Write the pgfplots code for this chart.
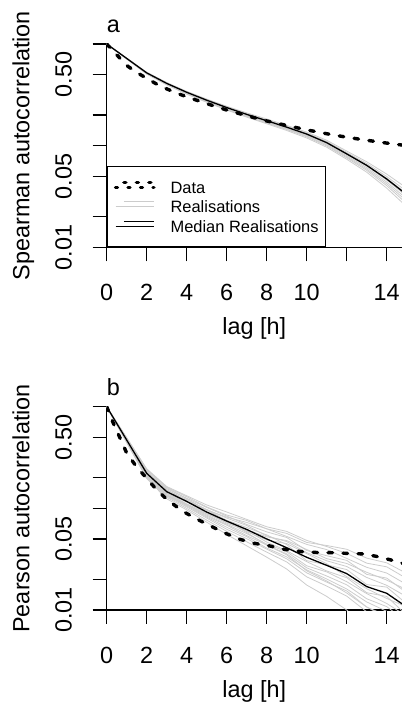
\documentclass[border=0pt]{standalone}
\usepackage{fontspec}
\setmainfont{Liberation Sans}
\usepackage{pgfplots}
\pgfplotsset{compat=1.18}
\usepackage{pgfplotstable}

\definecolor{realgrey}{gray}{0.80}

% Panel a: Spearman, data (dashed)
\pgfplotstableread{
lag val
0 1.0
0.33 0.85
0.67 0.723
1 0.615
1.5 0.525
2 0.46
2.5 0.403
3 0.362
3.5 0.329
4 0.302
5 0.259
6 0.224
7 0.197
8 0.175
9 0.158
10 0.143
11 0.131
12 0.121
13 0.113
14 0.106
15 0.100
}\dataA

% Panel a: median and realisations
\pgfplotstableread{
lag m r1 r2 r3 r4 r5 r6 r7 r8
0 1 1 1 1 1 1 1 1 1
2 0.52 0.528 0.524 0.521 0.518 0.515 0.512 0.510 0.506
3 0.41 0.418 0.414 0.411 0.408 0.405 0.403 0.400 0.396
4 0.335 0.342 0.339 0.336 0.333 0.330 0.328 0.325 0.321
5 0.28 0.287 0.284 0.281 0.278 0.2755 0.273 0.270 0.267
6 0.237 0.244 0.241 0.238 0.235 0.2327 0.230 0.2275 0.224
7 0.203 0.210 0.206 0.204 0.201 0.199 0.1965 0.194 0.191
8 0.176 0.183 0.179 0.177 0.174 0.172 0.1697 0.167 0.164
9 0.152 0.158 0.155 0.153 0.150 0.148 0.146 0.144 0.141
10 0.13 0.136 0.133 0.131 0.129 0.126 0.124 0.122 0.119
11 0.107 0.113 0.110 0.108 0.1055 0.1034 0.1013 0.0992 0.0965
12 0.083 0.0885 0.0857 0.084 0.0816 0.0796 0.0777 0.0759 0.0735
13 0.064 0.0694 0.0667 0.0647 0.0627 0.0608 0.0588 0.0571 0.0548
14 0.047 0.0525 0.0497 0.0477 0.0458 0.0438 0.0421 0.0404 0.0382
15 0.033 0.0383 0.0355 0.0337 0.0318 0.0301 0.0285 0.0269 0.0251
}\realA

% Panel b: Pearson, data (dashed)
\pgfplotstableread{
lag val
0 1.0
0.33 0.69
0.67 0.49
1 0.35
1.5 0.255
2 0.1975
2.5 0.152
3 0.123
3.75 0.095
4.42 0.080
5.17 0.0675
5.87 0.0576
6.6 0.050
7.37 0.0453
8.17 0.0426
8.9 0.0395
9.75 0.0375
10.5 0.0368
11.33 0.0366
12.1 0.036
12.9 0.0356
13.7 0.033
14.5 0.030
15 0.028
}\dataB

% Panel b: median and realisations
\pgfplotstableread{
lag m r1 r2 r3 r4 r5 r6 r7 r8 r9 r10 r11 r12 r13 r14 r15 r16
0 1 1 1 1 1 1 1 1 1 1 1 1 1 1 1 1 1
2 0.221 0.245 0.240 0.234 0.229 0.226 0.221 0.216 0.2135 0.211 0.206 0.204 0.199 0.197 0.211 0.206 0.242
3 0.146 0.164 0.162 0.1565 0.153 0.151 0.1426 0.1426 0.1394 0.1362 0.1348 0.1317 0.1286 0.1242 0.1426 0.1332 0.160
4 0.117 0.133 0.130 0.1257 0.1215 0.1187 0.116 0.1108 0.1095 0.1082 0.1058 0.1034 0.0999 0.0965 0.116 0.1082 0.1244
5 0.092 0.108 0.1033 0.1021 0.0975 0.0964 0.0899 0.0899 0.0859 0.0839 0.0821 0.0802 0.0766 0.0731 0.0964 0.0880 0.0964
6 0.075 0.0921 0.0860 0.0840 0.0802 0.0765 0.0749 0.0715 0.0698 0.0683 0.0652 0.0623 0.0594 0.0554 0.0820 0.0732 0.0749
7 0.062 0.0779 0.0760 0.0694 0.0678 0.0648 0.0590 0.0604 0.0564 0.0539 0.0526 0.0503 0.0469 0.0428 0.0727 0.0618 0.0578
8 0.050 0.0659 0.0629 0.0587 0.0536 0.0548 0.0489 0.0466 0.0446 0.0436 0.0407 0.0397 0.0371 0.0331 0.0629 0.0524 0.0436
9 0.041 0.0593 0.0529 0.0517 0.0471 0.0440 0.0450 0.0383 0.0374 0.0357 0.0333 0.0319 0.0297 0.0253 0.0567 0.0482 0.0349
10 0.033 0.0484 0.0442 0.0385 0.0367 0.0306 0.0359 0.0299 0.0272 0.0260 0.0248 0.0232 0.0212 0.0176 0.0462 0.0394 0.0243
11 0.0275 0.0421 0.0393 0.0342 0.0305 0.0278 0.0285 0.0242 0.0237 0.0216 0.0202 0.0188 0.0172 0.0136 0.0431 0.0320 0.0193
12 0.0228 0.0361 0.0322 0.0308 0.0268 0.0250 0.0213 0.0208 0.0190 0.0177 0.0161 0.0154 0.0137 0.0100 0.0396 0.0287 0.0147
13 0.017 0.0289 0.0263 0.0224 0.0209 0.0178 0.0162 0.0148 0.0145 0.0129 0.0120 0.0107 0.0096 0.0068 0.0324 0.0235 0.0107
14 0.0146 0.0266 0.0231 0.0206 0.0175 0.0168 0.0130 0.0136 0.0116 0.0108 0.0097 0.0088 0.0077 0.0052 0.0291 0.0197 0.0084
15 0.0107 0.0204 0.0178 0.0148 0.0135 0.0115 0.0107 0.0089 0.0087 0.0077 0.0069 0.0062 0.0054 0.0034 0.0229 0.0158 0.0059
}\realB

\begin{document}
\begin{tikzpicture}
\path[use as bounding box] (0bp,0bp) rectangle (402bp,716bp);

\begin{axis}[at={(106.7bp,468.7bp)}, anchor=south west,
    scale only axis, width=295.3bp, height=203.3bp,
    xmin=0, xmax=14.765, ymin=0.01, ymax=1, ymode=log,
    axis x line*=bottom, axis y line*=left,
    axis line style={line width=1.2bp, black},
    tick align=outside, major tick length=14bp,
    every tick/.style={black, line width=1.2bp},
    yminorticks=false, xminorticks=false,
    xtick={0,2,4,6,8,10,12,14}, xticklabels={0,2,4,6,8,10,,14},
    ytick={0.01,0.02,0.05,0.1,0.2,0.5,1}, yticklabels={0.01,,0.05,,,0.50,},
    tick label style={font=\fontsize{23.5}{28}\selectfont, inner sep=0pt},
    xticklabel style={anchor=base, yshift=-39.5bp},
    yticklabel style={xshift=-21bp, rotate=90, anchor=base},
    every axis x label/.style={at={(axis description cs:0.5,0)}, anchor=base, yshift=-87bp, font=\fontsize{23.5}{28}\selectfont},
    every axis y label/.style={at={(axis description cs:-0.262,0.5)}, rotate=90, anchor=base, font=\fontsize{23.5}{28}\selectfont},
    xlabel={lag [h]},
    title style={at={(axis description cs:0,1)}, anchor=base west, yshift=5.5bp, inner sep=0pt, font=\fontsize{23.5}{28}\selectfont},
    title={a}, ylabel={Spearman autocorrelation},
    legend style={at={(axis description cs:0,0)}, anchor=south west, draw=black, line width=1bp, fill=white,
      font=\fontsize{16.5}{19}\selectfont, inner xsep=6.6bp, inner ysep=12.5bp, row sep=3.5bp, column sep=15bp,
      nodes={inner sep=0pt, text height=14bp, text depth=2bp}},
    legend cell align=left,
    legend image code/.code={\path (0bp,0bp) -- (38.4bp,0bp); \draw[#1] (8.4bp,5bp) -- (38.4bp,5bp);},
]
\pgfplotsinvokeforeach{r1,r2,r3,r4,r5,r6,r7,r8}{
  \addplot[realgrey, line width=0.8bp, forget plot] table[x=lag, y=#1] {\realA};
}
\addplot[black, line width=1.3bp, forget plot] table[x=lag, y=m] {\realA};
\addplot[black, line width=3.4bp, line cap=round, dash pattern=on 4.5bp off 10.5bp, forget plot] table[x=lag, y=val] {\dataA};
\addlegendimage{black, line width=3.4bp, line cap=round, dash pattern=on 2bp off 10.5bp}
\addlegendentry{Data}
\addlegendimage{realgrey, line width=0.8bp}
\addlegendentry{Realisations}
\addlegendimage{black, line width=1.3bp}
\addlegendentry{Median Realisations}
\end{axis}

\begin{axis}[at={(106.7bp,106bp)}, anchor=south west,
    scale only axis, width=295.3bp, height=203.3bp,
    xmin=0, xmax=14.765, ymin=0.01, ymax=1, ymode=log,
    axis x line*=bottom, axis y line*=left,
    axis line style={line width=1.2bp, black},
    tick align=outside, major tick length=14bp,
    every tick/.style={black, line width=1.2bp},
    yminorticks=false, xminorticks=false,
    xtick={0,2,4,6,8,10,12,14}, xticklabels={0,2,4,6,8,10,,14},
    ytick={0.01,0.02,0.05,0.1,0.2,0.5,1}, yticklabels={0.01,,0.05,,,0.50,},
    tick label style={font=\fontsize{23.5}{28}\selectfont, inner sep=0pt},
    xticklabel style={anchor=base, yshift=-39.5bp},
    yticklabel style={xshift=-21bp, rotate=90, anchor=base},
    every axis x label/.style={at={(axis description cs:0.5,0)}, anchor=base, yshift=-87bp, font=\fontsize{23.5}{28}\selectfont},
    every axis y label/.style={at={(axis description cs:-0.262,0.5)}, rotate=90, anchor=base, font=\fontsize{23.5}{28}\selectfont},
    xlabel={lag [h]},
    title style={at={(axis description cs:0,1)}, anchor=base west, yshift=5.5bp, inner sep=0pt, font=\fontsize{23.5}{28}\selectfont},
    title={b}, ylabel={Pearson autocorrelation},
]
\pgfplotsinvokeforeach{r1,r2,r3,r4,r5,r6,r7,r8,r9,r10,r11,r12,r13,r14,r15,r16}{
  \addplot[realgrey, line width=0.8bp] table[x=lag, y=#1] {\realB};
}
\addplot[black, line width=1.3bp] table[x=lag, y=m] {\realB};
\addplot[black, line width=3.4bp, line cap=round, dash pattern=on 4.5bp off 10.5bp] table[x=lag, y=val] {\dataB};
\end{axis}
\end{tikzpicture}
\end{document}
